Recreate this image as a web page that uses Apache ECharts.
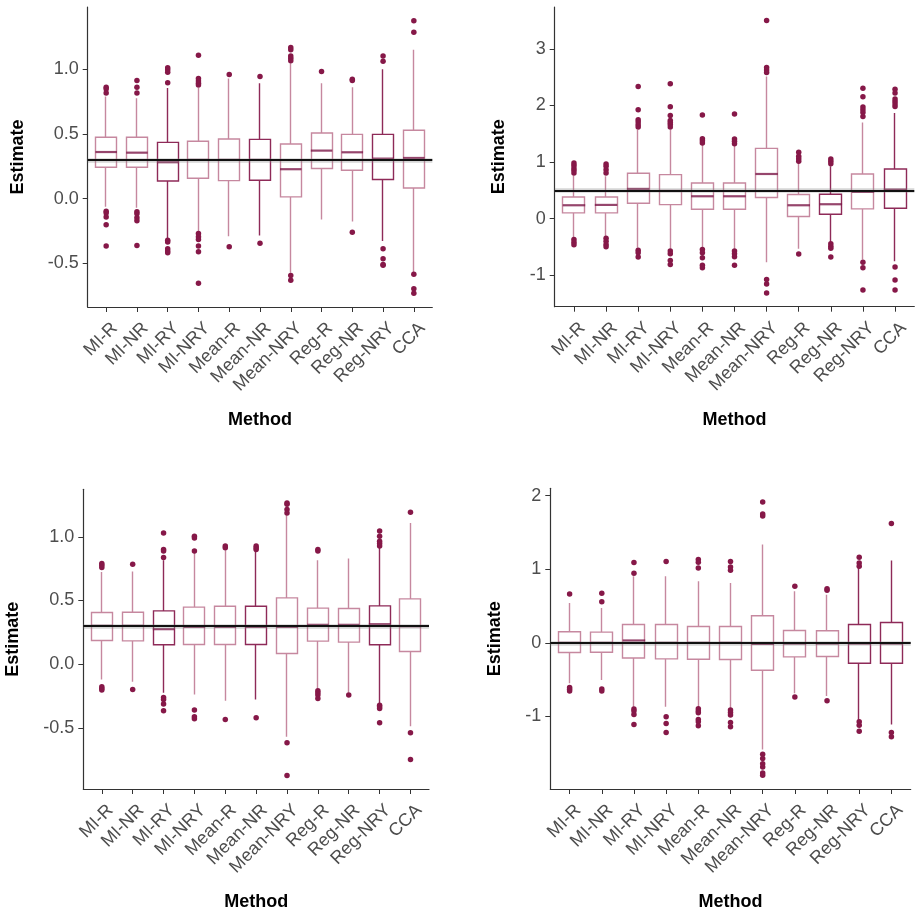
<!DOCTYPE html>
<html lang="en">
<head>
  <meta charset="UTF-8">
  <title>Estimate by method</title>
  <script src="https://cdn.jsdelivr.net/npm/echarts@6.0.0/dist/echarts.min.js"></script>
  <style>
    html, body { margin: 0; padding: 0; background: #fff; }
    #chart { width: 922px; height: 916px; }
  </style>
</head>
<body>
<div id="chart"></div>
<script>
  const methods = ['MI-R', 'MI-NR', 'MI-RY', 'MI-NRY', 'Mean-R', 'Mean-NR', 'Mean-NRY', 'Reg-R', 'Reg-NR', 'Reg-NRY', 'CCA']

  // [lower whisker, Q1, median, Q3, upper whisker] per method
  const boxA = [
    [-0.064, 0.242, 0.360, 0.474, 0.790],
    [-0.072, 0.242, 0.355, 0.474, 0.777],
    [-0.311, 0.136, 0.281, 0.435, 0.855],
    [-0.260, 0.157, 0.299, 0.443, 0.855],
    [-0.291, 0.139, 0.299, 0.461, 0.930],
    [-0.286, 0.142, 0.299, 0.458, 0.893],
    [-0.574, 0.013, 0.227, 0.422, 1.048],
    [-0.162, 0.232, 0.371, 0.507, 0.893],
    [-0.178, 0.219, 0.358, 0.497, 0.862],
    [-0.329, 0.147, 0.309, 0.497, 1.001],
    [-0.574, 0.082, 0.314, 0.528, 1.151]
  ]
  const outA = [
    [0.862, 0.847, 0.816, -0.098, -0.111, -0.142, -0.203, -0.368],
    [0.914, 0.862, 0.816, -0.103, -0.118, -0.149, -0.172, -0.363],
    [1.012, 0.996, 0.978, 0.896, -0.322, -0.337, -0.389, -0.407, -0.420],
    [1.109, 0.929, 0.909, 0.893, 0.878, -0.270, -0.296, -0.317, -0.368, -0.412, -0.656],
    [0.960, -0.373],
    [0.945, -0.347],
    [1.169, 1.151, 1.104, 1.086, 1.066, -0.595, -0.633],
    [0.983],
    [0.924, 0.914, -0.260],
    [1.104, 1.063, -0.389, -0.466, -0.510, -0.517],
    [1.377, 1.287, -0.587, -0.698, -0.734]
  ]

  const boxB = [
    [-0.353, 0.100, 0.235, 0.382, 0.759],
    [-0.324, 0.100, 0.241, 0.382, 0.747],
    [-0.518, 0.271, 0.524, 0.800, 1.571],
    [-0.535, 0.247, 0.488, 0.776, 1.571],
    [-0.518, 0.165, 0.394, 0.629, 1.306],
    [-0.535, 0.165, 0.394, 0.629, 1.294],
    [-0.771, 0.371, 0.788, 1.241, 2.512],
    [-0.535, 0.035, 0.235, 0.424, 0.982],
    [-0.429, 0.076, 0.253, 0.429, 0.924],
    [-0.724, 0.171, 0.471, 0.788, 1.700],
    [-0.753, 0.182, 0.512, 0.876, 1.865]
  ]
  const outB = [
    [0.982, 0.941, 0.894, 0.853, 0.806, -0.371, -0.418, -0.465],
    [0.965, 0.924, 0.865, 0.806, -0.347, -0.400, -0.459, -0.500],
    [2.335, 1.924, 1.747, 1.706, 1.659, 1.618, -0.559, -0.606, -0.682],
    [2.382, 1.976, 1.824, 1.735, 1.700, 1.665, 1.618, -0.576, -0.624, -0.741, -0.812],
    [1.829, 1.412, 1.376, 1.335, -0.547, -0.606, -0.694, -0.824, -0.871],
    [1.847, 1.406, 1.365, 1.324, -0.576, -0.624, -0.676, -0.824],
    [3.500, 2.671, 2.629, 2.582, -1.076, -1.159, -1.318],
    [1.171, 1.100, 1.059, 1.012, -0.629],
    [1.053, 1.012, 0.971, -0.447, -0.488, -0.524, -0.682],
    [2.306, 2.153, 1.971, 1.924, 1.876, 1.806, -0.771, -0.871, -1.265],
    [2.288, 2.218, 2.112, 2.071, 2.024, 1.982, -0.859, -1.088, -1.265]
  ]

  const boxC = [
    [-0.120, 0.186, 0.301, 0.406, 0.725],
    [-0.139, 0.183, 0.301, 0.408, 0.728],
    [-0.225, 0.152, 0.275, 0.419, 0.817],
    [-0.238, 0.154, 0.293, 0.448, 0.882],
    [-0.288, 0.154, 0.293, 0.455, 0.895],
    [-0.277, 0.154, 0.293, 0.455, 0.890],
    [-0.571, 0.084, 0.293, 0.521, 1.170],
    [-0.191, 0.181, 0.309, 0.440, 0.817],
    [-0.225, 0.173, 0.309, 0.437, 0.830],
    [-0.314, 0.152, 0.314, 0.458, 0.921],
    [-0.487, 0.099, 0.298, 0.513, 1.110]
  ]
  const outC = [
    [0.791, 0.777, 0.759, -0.178, -0.191, -0.204],
    [0.785, -0.199],
    [1.031, 0.901, 0.890, 0.838, -0.262, -0.277, -0.314, -0.366],
    [1.005, 0.992, 0.890, -0.361, -0.414, -0.429],
    [0.929, 0.914, -0.435],
    [0.929, 0.914, 0.901, -0.421],
    [1.267, 1.257, 1.215, 1.188, -0.618, -0.874],
    [0.901, 0.890, -0.209, -0.225, -0.243, -0.270],
    [-0.243],
    [1.047, 1.005, 0.966, 0.948, 0.929, -0.322, -0.335, -0.348, -0.461],
    [1.194, -0.539, -0.749]
  ]

  const boxD = [
    [-0.550, -0.132, 0.000, 0.150, 0.541],
    [-0.505, -0.127, 0.000, 0.145, 0.473],
    [-0.877, -0.205, 0.032, 0.250, 0.905],
    [-0.868, -0.218, 0.000, 0.250, 0.905],
    [-0.877, -0.223, 0.000, 0.223, 0.836],
    [-0.891, -0.227, 0.000, 0.223, 0.814],
    [-1.450, -0.373, -0.014, 0.368, 1.336],
    [-0.686, -0.191, -0.009, 0.168, 0.700],
    [-0.723, -0.186, -0.009, 0.164, 0.655],
    [-1.050, -0.277, -0.009, 0.250, 1.018],
    [-1.109, -0.277, -0.009, 0.277, 1.118]
  ]
  const outD = [
    [0.664, -0.605, -0.632, -0.655],
    [0.673, 0.559, -0.627, -0.655],
    [1.091, 0.945, -0.900, -0.927, -0.973, -1.109],
    [1.105, -1.005, -1.095, -1.218],
    [1.132, 1.095, 1.018, -0.895, -0.927, -0.950, -1.041, -1.073, -1.127],
    [1.105, 1.032, 0.986, -0.914, -0.945, -0.982, -1.082, -1.141],
    [1.914, 1.750, 1.723, -1.514, -1.573, -1.641, -1.686, -1.768, -1.800],
    [0.768, -0.736],
    [0.736, 0.714, -0.786],
    [1.164, 1.086, 1.041, -1.073, -1.118, -1.200],
    [1.623, -1.218, -1.277]
  ]

  const truths = [0.3, 0.5, 0.3, 0]
  const yTicksA = [-0.5, 0, 0.5, 1]
  const yTicksB = [-1, 0, 1, 2, 3]
  const yTicksC = [-0.5, 0, 0.5, 1]
  const yTicksD = [-1, 0, 1, 2]

  // look of each panel (not data)
  const panels = [
    {box: boxA, out: outA, ticks: yTicksA, dec: 1, grid: {left: 87.7, top: 7, width: 344.6, height: 300}, nameGap: 61, boxW: 21.5, dark: [2, 5, 9]},
    {box: boxB, out: outB, ticks: yTicksB, dec: 0, grid: {left: 554.7, top: 7, width: 359.6, height: 299.7}, nameGap: 47, boxW: 22.5, dark: [8, 10]},
    {box: boxC, out: outC, ticks: yTicksC, dec: 1, grid: {left: 83.3, top: 489.3, width: 345.7, height: 299.7}, nameGap: 61, boxW: 21.5, dark: [2, 5, 9]},
    {box: boxD, out: outD, ticks: yTicksD, dec: 0, grid: {left: 550.3, top: 488.3, width: 360.4, height: 300.7}, nameGap: 46, boxW: 22.5, dark: [9, 10]}
  ]

  const light = '#c6889f'
  const dark = '#8e2a58'
  const pointColor = '#861848'
  const font = 'Liberation Sans, Arial, sans-serif'
  const xVals = methods.map((m, i) => i + 1)

  const grid = [], xAxis = [], yAxis = [], series = []
  panels.forEach((p, k) => {
    grid.push(Object.assign({outerBoundsMode: 'none', containLabel: false}, p.grid))

    // ggplot-like 5% expansion of the data range
    let lo = Infinity, hi = -Infinity
    p.box.forEach(b => { lo = Math.min(lo, b[0]); hi = Math.max(hi, b[4]) })
    p.out.forEach(o => o.forEach(v => { lo = Math.min(lo, v); hi = Math.max(hi, v) }))
    const pad = (hi - lo) * 0.05

    xAxis.push({
      type: 'value', gridIndex: k, min: 0.4, max: 11.6,
      name: 'Method', nameLocation: 'middle', nameGap: 104,
      nameTextStyle: {fontFamily: font, fontSize: 18, fontWeight: 'bold', color: '#000'},
      axisLine: {show: true, onZero: false, lineStyle: {color: '#333', width: 1.2}},
      axisTick: {show: true, length: 5, customValues: xVals, lineStyle: {color: '#333'}},
      axisLabel: {
        customValues: xVals, rotate: 45, margin: 10,
        align: 'right', verticalAlign: 'top', padding: [3, 0, 0, 0],
        fontFamily: font, fontSize: 18, color: '#4d4d4d',
        formatter: v => methods[Math.round(v) - 1]
      },
      splitLine: {show: false}
    })
    yAxis.push({
      type: 'value', gridIndex: k, min: lo - pad, max: hi + pad,
      name: 'Estimate', nameLocation: 'middle', nameGap: p.nameGap,
      nameTextStyle: {fontFamily: font, fontSize: 18, fontWeight: 'bold', color: '#000'},
      axisLine: {show: true, onZero: false, lineStyle: {color: '#333', width: 1.2}},
      axisTick: {show: true, length: 5, customValues: p.ticks, lineStyle: {color: '#333'}},
      axisLabel: {
        customValues: p.ticks, margin: 9,
        fontFamily: font, fontSize: 18, color: '#4d4d4d',
        formatter: v => v.toFixed(p.dec)
      },
      splitLine: {show: false}
    })

    // box + whiskers without end caps: candlestick [x, Q1, Q3, low, high]
    series.push({
      type: 'candlestick', xAxisIndex: k, yAxisIndex: k,
      barWidth: p.boxW,
      data: p.box.map((b, i) => {
        const c = p.dark.includes(i) ? dark : light
        return {
          value: [i + 1, b[1], b[3], b[0], b[4]],
          itemStyle: {color: '#fff', color0: '#fff', borderColor: c, borderColor0: c, borderWidth: 1.4}
        }
      }),
      z: 2
    })

    const pts = []
    p.out.forEach((o, i) => o.forEach(v => pts.push([i + 1, v])))
    series.push({
      type: 'scatter', xAxisIndex: k, yAxisIndex: k,
      data: pts, symbolSize: 5.5,
      itemStyle: {color: pointColor, opacity: 1},
      z: 3
    })

    series.push({
      type: 'scatter', xAxisIndex: k, yAxisIndex: k,
      data: p.box.map((b, i) => [i + 1, b[2]]),
      symbol: 'rect', symbolSize: [p.boxW, 2.2],
      itemStyle: {color: '#7c1848'},
      z: 4,
      markLine: {
        silent: true, symbol: 'none', label: {show: false},
        animation: false,
        data: [
          {yAxis: truths[k], lineStyle: {color: '#888', width: 4.5, type: 'solid', opacity: 0.35}},
          {yAxis: truths[k], lineStyle: {color: '#111', width: 1.8, type: 'solid'}}
        ]
      }
    })
  })

  const chart = echarts.init(document.getElementById('chart'))
  chart.setOption({
    animation: false,
    backgroundColor: '#fff',
    grid: grid,
    xAxis: xAxis,
    yAxis: yAxis,
    series: series
  })
</script>
</body>
</html>
